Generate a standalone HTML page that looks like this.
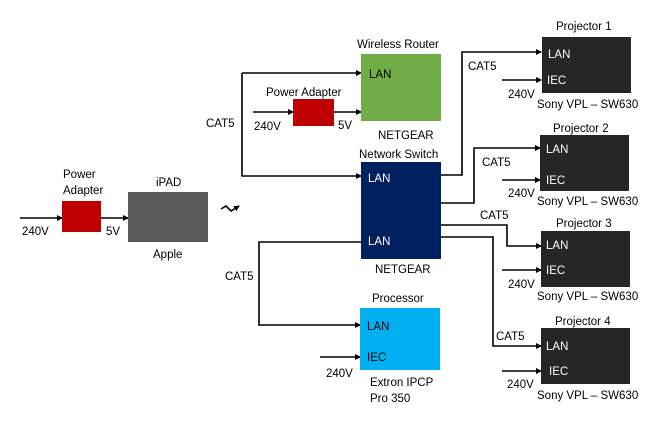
<!DOCTYPE html>
<html><head><meta charset="utf-8"><style>
body{margin:0;background:#fff}
svg text{font-family:"Liberation Sans",sans-serif;font-size:11.5px;fill:#000}
</style></head><body>
<svg width="667" height="430" viewBox="0 0 667 430" xmlns="http://www.w3.org/2000/svg">
<defs><marker id="a" markerWidth="6" markerHeight="6" refX="5" refY="3" orient="auto" markerUnits="userSpaceOnUse"><path d="M0,0L6,3L0,6z" fill="#000"/></marker></defs>
<g stroke="#000" stroke-width="1.6" fill="none">
<path d="M20,218H62" marker-end="url(#a)"/>
<path d="M101,218H128" marker-end="url(#a)"/>
<path d="M221,209l5,-3l5,5l8,-5" marker-end="url(#a)"/>
<path d="M242,73V176H361" marker-end="url(#a)"/>
<path d="M242,73H361" marker-end="url(#a)"/>
<path d="M253,112H293" marker-end="url(#a)"/>
<path d="M334,112H361" marker-end="url(#a)"/>
<path d="M361,242H259V325H360" marker-end="url(#a)"/>
<path d="M320,357H360" marker-end="url(#a)"/>
<path d="M441,175H462V52H541" marker-end="url(#a)"/>
<path d="M441,203H474V148H540" marker-end="url(#a)"/>
<path d="M441,225H507V246H541" marker-end="url(#a)"/>
<path d="M441,237H493V346H541" marker-end="url(#a)"/>
<path d="M502,80H541" marker-end="url(#a)"/>
<path d="M502,180H540" marker-end="url(#a)"/>
<path d="M502,270H541" marker-end="url(#a)"/>
<path d="M502,371H541" marker-end="url(#a)"/>
</g>
<rect x="62" y="201" width="39" height="31" fill="#c00000"/>
<rect x="128" y="192" width="80" height="50" fill="#595959"/>
<rect x="293" y="99" width="41" height="27" fill="#c00000"/>
<rect x="361" y="54" width="80" height="67" fill="#70ad47"/>
<rect x="361" y="162" width="80" height="97" fill="#002060"/>
<rect x="360" y="308" width="80" height="62" fill="#00b0f0"/>
<rect x="542" y="37" width="89" height="56" fill="#262626"/>
<rect x="540" y="135" width="89" height="56" fill="#262626"/>
<rect x="541" y="231" width="89" height="56" fill="#262626"/>
<rect x="541" y="328" width="89" height="56" fill="#262626"/>
<text x="63" y="178">Power</text><text x="63" y="194">Adapter</text>
<text x="22" y="235">240V</text><text x="106" y="235">5V</text>
<text x="156" y="186">iPAD</text><text x="153" y="258">Apple</text>
<text x="206" y="127">CAT5</text>
<text x="266" y="96">Power Adapter</text>
<text x="254" y="130">240V</text><text x="338" y="129">5V</text>
<text x="357" y="48">Wireless Router</text>
<text x="378" y="139">NETGEAR</text>
<text x="359" y="158">Network Switch</text>
<text x="375" y="273">NETGEAR</text>
<text x="225" y="280">CAT5</text>
<text x="372" y="302">Processor</text>
<text x="326" y="377">240V</text>
<text x="370" y="386">Extron IPCP</text><text x="370" y="402">Pro 350</text>
<text x="369" y="78">LAN</text>
<text x="368" y="182" style="fill:#fff">LAN</text><text x="368" y="245" style="fill:#fff">LAN</text>
<text x="367" y="330">LAN</text><text x="367" y="361">IEC</text>
<text x="548" y="58" style="fill:#fff">LAN</text><text x="547" y="84" style="fill:#fff">IEC</text>
<text x="546" y="153" style="fill:#fff">LAN</text><text x="546" y="184" style="fill:#fff">IEC</text>
<text x="546" y="249" style="fill:#fff">LAN</text><text x="546" y="274" style="fill:#fff">IEC</text>
<text x="546" y="350" style="fill:#fff">LAN</text><text x="549" y="375" style="fill:#fff">IEC</text>
<text x="556" y="30">Projector 1</text><text x="553" y="132">Projector 2</text>
<text x="556" y="227">Projector 3</text><text x="555" y="325">Projector 4</text>
<text x="468" y="70">CAT5</text><text x="482" y="166">CAT5</text>
<text x="480" y="219">CAT5</text><text x="496" y="340">CAT5</text>
<text x="508" y="98">240V</text><text x="508" y="197">240V</text>
<text x="508" y="288">240V</text><text x="507" y="388">240V</text>
<text x="537" y="108">Sony VPL – SW630</text><text x="537" y="205">Sony VPL – SW630</text>
<text x="537" y="300">Sony VPL – SW630</text><text x="537" y="399">Sony VPL – SW630</text>
</svg>
</body></html>
